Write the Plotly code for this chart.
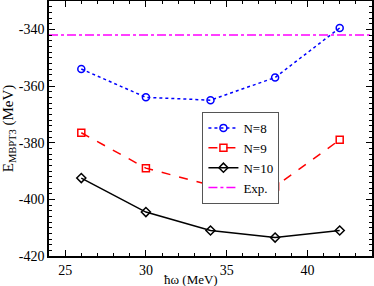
import plotly.graph_objects as go

hw = [26, 30, 34, 38, 42]
e_n8 = [-354, -364, -365, -357, -339.5]
e_n9 = [-376.5, -389, -395, -395.5, -379]
e_n10 = [-392.5, -404.5, -411, -413.5, -411]
e_exp = -342
x_range = [24, 44]
y_ticks = [-420, -400, -380, -360, -340]
y_ticklabels = ["-420", "-400", "-380", "-360", "-340"]

SERIF = "Liberation Serif"

fig = go.Figure()
fig.add_trace(go.Scatter(x=hw, y=e_n8, name="N=8", mode="lines+markers",
    line=dict(color="blue", dash="dot", width=1.5),
    marker=dict(symbol="circle-open", size=7, color="blue", line=dict(width=1.5))))
fig.add_trace(go.Scatter(x=hw, y=e_n9, name="N=9", mode="lines+markers",
    line=dict(color="red", dash="dash", width=1.5),
    marker=dict(symbol="square-open", size=7, color="red", line=dict(width=1.5))))
fig.add_trace(go.Scatter(x=hw, y=e_n10, name="N=10", mode="lines+markers",
    line=dict(color="black", width=1.5),
    marker=dict(symbol="diamond-open", size=7, color="black", line=dict(width=1.5))))
fig.add_trace(go.Scatter(x=x_range, y=[e_exp, e_exp], name="Exp.", mode="lines",
    line=dict(color="magenta", dash="dashdot", width=1.5)))

axis_common = dict(showgrid=False, zeroline=False, showline=True, linecolor="black",
    linewidth=1.5, mirror="allticks", ticks="inside", ticklen=6, tickwidth=1,
    tickcolor="black", automargin=False,
    tickfont=dict(family=SERIF, size=14, color="black"))
fig.update_xaxes(range=x_range, dtick=5, tick0=25,
    minor=dict(dtick=1, ticks="inside", ticklen=3, tickcolor="black"),
    **axis_common)
fig.update_yaxes(range=[-420, -330], tickvals=y_ticks, ticktext=y_ticklabels,
    minor=dict(dtick=2, tick0=-420, ticks="inside", ticklen=3, tickcolor="black"),
    title=dict(text="E<sub>MBPT3</sub> (MeV)", font=dict(family=SERIF, size=15, color="black"), standoff=6),
    **axis_common)

fig.add_annotation(text="ħω (MeV)", x=32.8, xref="x", y=0, yref="paper",
    yanchor="top", yshift=-14, showarrow=False,
    font=dict(family=SERIF, size=13, color="black"))

fig.update_layout(width=374, height=286, margin=dict(l=49, r=2, t=1, b=30),
    paper_bgcolor="white", plot_bgcolor="white",
    font=dict(family=SERIF, size=13, color="black"),
    legend=dict(x=0.475, y=0.565, xanchor="left", yanchor="top",
        bordercolor="#555", borderwidth=1, bgcolor="white",
        font=dict(family=SERIF, size=13), tracegroupgap=0,
        itemwidth=30))

fig.write_html("out.html", config={"displayModeBar": False},
    post_script="document.body.style.margin='0';document.body.style.overflow='hidden';")
